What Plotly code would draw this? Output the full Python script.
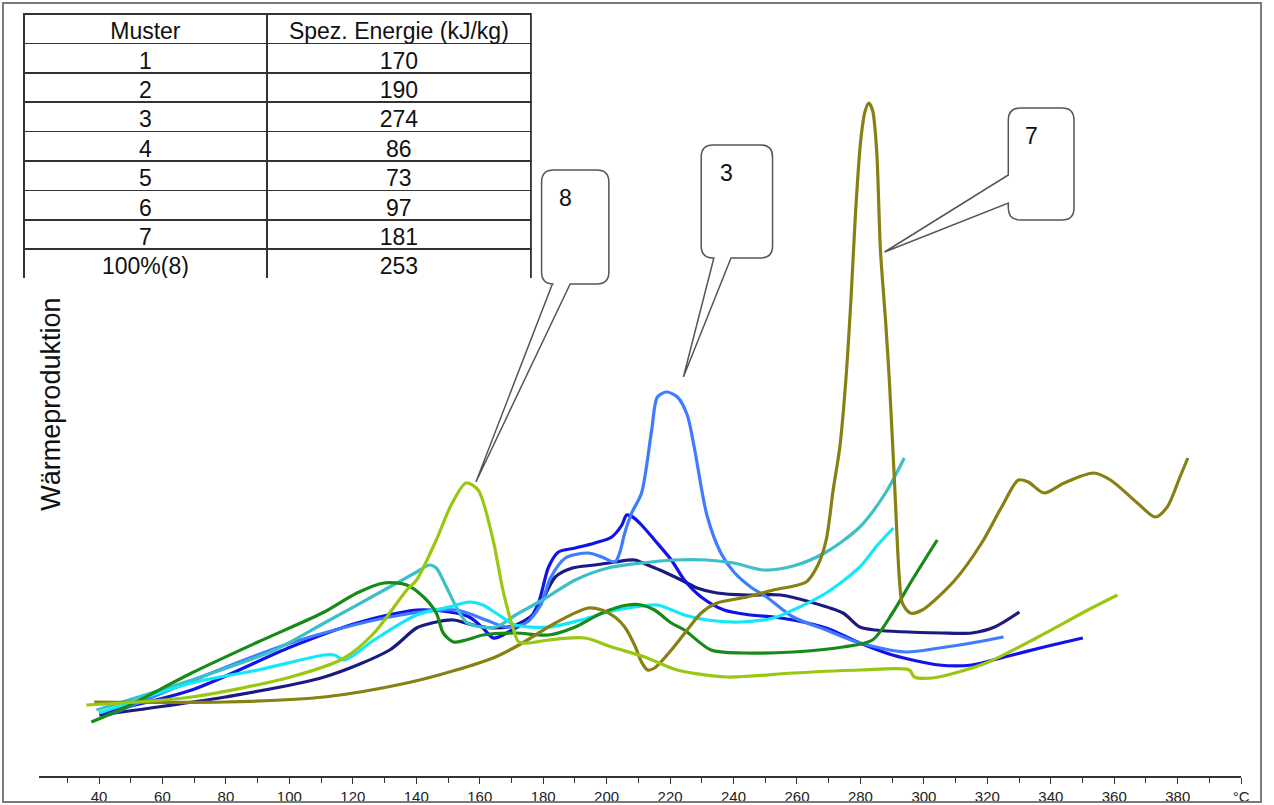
import plotly.graph_objects as go

# ---------------- data (x in °C, y relative heat production) ----------------
muster = ["1", "2", "3", "4", "5", "6", "7", "100%(8)"]
energie = ["170", "190", "274", "86", "73", "97", "181", "253"]

x1 = [40.1, 79.8, 111.0, 131.6, 140.1, 146.3, 151.7, 157.9, 164.2, 171.3, 176.7, 179.8, 183.8, 189.2, 196.3,
      202.6, 208.8, 212.9, 218.2, 223.5, 228.5, 234.8, 244.2, 254.8, 264.2, 274.5, 279.8, 284.8, 305.7, 315.1,
      322.3, 330.1]
y1 = [6.1, 7.9, 9.9, 12.6, 14.8, 15.4, 15.6, 15.1, 14.8, 15.1, 16.1, 17.6, 19.9, 20.8, 21.1,
      21.4, 21.6, 21.1, 20.4, 19.6, 18.8, 18.3, 18.1, 18.1, 17.4, 16.3, 14.9, 14.6, 14.3, 14.3,
      14.9, 16.4]

x2 = [40.1, 69.2, 100.4, 121.3, 140.1, 150.4, 156.7, 161.0, 164.2, 166.0, 171.3, 175.4, 178.5, 181.7, 184.8,
      190.1, 196.3, 201.6, 204.8, 206.3, 208.2, 211.0, 215.1, 220.4, 224.5, 229.8, 237.0, 245.4, 252.6, 258.8,
      269.2, 279.8, 290.1, 304.8, 315.1, 325.4, 337.9, 350.1]
y2 = [6.3, 8.6, 12.9, 15.3, 16.6, 16.4, 15.9, 14.8, 13.8, 13.9, 14.8, 15.6, 17.3, 20.9, 22.4,
      22.8, 23.3, 23.9, 25.1, 26.1, 25.9, 25.1, 23.6, 21.6, 19.6, 17.9, 16.6, 16.1, 15.9, 15.6,
      14.8, 13.3, 12.1, 11.1, 11.1, 11.9, 12.9, 13.8]

x3 = [43.2, 100.4, 131.6, 152.6, 162.0, 168.2, 174.5, 179.2, 182.3, 187.0, 194.2, 198.5, 202.6, 204.1, 205.7,
      207.9, 211.0, 214.2, 216.0, 218.9, 222.3, 225.4, 227.6, 231.6, 236.0, 240.1, 245.4, 250.4, 258.8, 269.2,
      279.8, 294.2, 304.8, 315.1, 325.1]
y3 = [6.1, 13.3, 15.9, 16.6, 15.6, 14.9, 15.3, 17.1, 19.8, 21.8, 22.3, 21.9, 21.4, 22.3, 24.3,
      26.3, 28.3, 34.6, 37.9, 38.4, 37.9, 36.1, 32.9, 26.1, 22.3, 20.4, 18.9, 17.9, 15.9, 14.6,
      13.3, 12.4, 12.8, 13.3, 13.9]

x4 = [39.2, 69.2, 95.4, 111.0, 131.6, 140.1, 144.2, 146.3, 149.5, 152.6, 155.7, 158.8, 165.1, 171.3, 179.8,
      190.1, 200.4, 211.0, 221.3, 231.6, 240.1, 249.5, 258.8, 269.2, 279.8, 287.9, 293.8]
y4 = [6.6, 9.6, 12.6, 15.3, 18.9, 20.4, 21.1, 20.8, 18.9, 16.9, 15.4, 15.0, 14.9, 16.1, 17.6,
      19.6, 20.8, 21.3, 21.6, 21.6, 21.3, 20.6, 21.0, 22.4, 24.9, 28.3, 31.8]

x5 = [40.1, 69.2, 90.1, 111.0, 114.2, 117.3, 126.7, 140.1, 150.4, 156.7, 161.0, 166.0, 171.3, 181.7, 193.2,
      200.4, 208.8, 216.0, 224.5, 231.6, 242.3, 252.6, 258.8, 269.2, 279.8, 285.4, 290.4]
y5 = [6.3, 9.3, 10.6, 12.1, 12.1, 11.6, 13.6, 16.1, 16.9, 17.4, 17.1, 16.1, 15.1, 14.9, 15.7,
      16.4, 16.9, 17.1, 16.1, 15.6, 15.4, 15.8, 16.6, 18.3, 20.9, 23.1, 24.8]

x6 = [37.6, 48.5, 69.2, 90.1, 111.0, 121.3, 129.8, 137.0, 142.3, 146.3, 148.5, 151.7, 155.7, 161.0, 171.3,
      181.7, 190.1, 198.5, 206.6, 211.0, 215.1, 220.4, 224.5, 232.9, 243.2, 258.8, 274.5, 283.8, 290.1, 296.3,
      304.2]
y6 = [5.4, 6.9, 10.3, 13.4, 16.4, 18.3, 19.3, 19.1, 17.9, 16.3, 14.3, 13.4, 13.6, 14.1, 14.3,
      14.1, 14.9, 16.3, 17.1, 17.1, 16.6, 15.3, 14.6, 12.6, 12.3, 12.4, 12.9, 13.6, 16.3, 19.6,
      23.6]

x7 = [38.5, 79.8, 111.0, 137.0, 152.6, 164.2, 173.5, 183.8, 194.2, 198.5, 202.6, 205.7, 208.8, 211.0, 212.9,
      215.1, 220.4, 225.4, 229.8, 234.8, 244.2, 252.6, 262.9, 266.6, 269.2, 271.4, 273.5, 275.4, 277.0, 278.5,
      280.1, 281.4, 282.6, 283.8, 285.1, 286.3, 287.9, 289.1, 290.7, 292.3, 293.2, 295.7, 299.5, 309.8, 318.2,
      324.5, 329.8, 332.9, 337.9, 344.2, 353.5, 358.8, 367.3, 372.9, 376.7, 380.7, 383.2]
y7 = [7.4, 7.4, 7.9, 9.3, 10.6, 11.8, 13.3, 15.3, 16.8, 16.6, 15.9, 14.9, 13.1, 11.4, 10.6,
      10.8, 12.6, 14.6, 16.3, 17.3, 17.9, 18.6, 19.4, 21.1, 23.6, 28.6, 32.9, 39.6, 47.6, 56.6,
      63.6, 66.4, 67.3, 66.6, 62.6, 52.6, 45.6, 39.6, 29.6, 19.6, 17.3, 16.3, 16.6, 19.6, 23.3,
      26.9, 29.6, 29.4, 28.3, 29.3, 30.3, 29.6, 27.3, 25.9, 26.9, 29.9, 31.8]

x8 = [36.0, 69.2, 100.4, 117.3, 126.7, 137.0, 140.1, 146.3, 151.0, 155.7, 159.5, 164.2, 167.3, 170.4, 172.3,
      175.4, 181.7, 193.2, 201.6, 212.0, 222.3, 237.9, 258.8, 279.8, 295.4, 297.0, 302.6, 309.8, 320.4, 336.0,
      351.7, 361.0]
y8 = [7.1, 7.9, 9.9, 11.8, 14.3, 18.6, 19.6, 23.6, 27.1, 29.3, 28.6, 23.6, 18.6, 14.9, 13.4,
      13.3, 13.6, 13.8, 12.9, 11.9, 10.6, 9.9, 10.3, 10.6, 10.6, 9.9, 9.8, 10.3, 11.4, 13.9,
      16.6, 18.1]

series = [
    ("Muster 1", x1, y1, "#1a1a80"),
    ("Muster 2", x2, y2, "#1212ea"),
    ("Muster 3", x3, y3, "#3f7cff"),
    ("Muster 4", x4, y4, "#3cbfc6"),
    ("Muster 5", x5, y5, "#12e8f8"),
    ("Muster 6", x6, y6, "#178a18"),
    ("Muster 7", x7, y7, "#878012"),
    ("Muster 8", x8, y8, "#9ac812"),
]

major_ticks = list(range(40, 400, 20)) + [400]
major_text = [str(v) for v in range(40, 400, 20)] + ["°C"]
minor_ticks = list(range(30, 400, 10))

# callouts: label, box (x0, x1, ybottom, ytop), wedge base, tip, side
callouts = [
    ("8", (179.5, 200.7, 49.2, 60.6), (182.9, 188.5), (158.8, 29.4), "bottom"),
    ("3", (229.8, 252.3, 51.8, 63.1), (233.8, 239.2), (224.2, 39.9), "bottom"),
    ("7", (326.6, 347.3, 55.6, 66.8), (60.1, 57.3), (287.6, 52.4), "left"),
]

W, H = 1274, 805
FONT = "Liberation Sans, Arial, sans-serif"

fig = go.Figure()
for name, xs, ys, col in series:
    fig.add_trace(go.Scatter(x=xs, y=ys, mode="lines", name=name,
                             line=dict(color=col, width=3.2, shape="spline", smoothing=0.8),
                             showlegend=False))

fig.add_trace(go.Table(
    domain=dict(x=[24 / W, 535 / W], y=[1 - 279 / H, 1 - 14 / H]),
    columnwidth=[245, 266],
    header=dict(values=["Muster", "Spez. Energie (kJ/kg)"], height=29.4,
                fill_color="white", line=dict(color="#333333", width=1.6),
                font=dict(family=FONT, size=23, color="#111"), align="center"),
    cells=dict(values=[muster, energie], height=29.4,
               fill_color="white", line=dict(color="#333333", width=1.6),
               font=dict(family=FONT, size=23, color="#111"), align="center"),
))


def callout_path(box, base, tip, side):
    x0, x1, yb, yt = box
    rx, ry = 3.8, 1.2
    p = [f"M {x0 + rx},{yt}", f"L {x1 - rx},{yt}", f"Q {x1},{yt} {x1},{yt - ry}",
         f"L {x1},{yb + ry}", f"Q {x1},{yb} {x1 - rx},{yb}"]
    if side == "bottom":
        p += [f"L {base[1]},{yb}", f"L {tip[0]},{tip[1]}", f"L {base[0]},{yb}"]
    p += [f"L {x0 + rx},{yb}", f"Q {x0},{yb} {x0},{yb + ry}"]
    if side == "left":
        p += [f"L {x0},{base[1]}", f"L {tip[0]},{tip[1]}", f"L {x0},{base[0]}"]
    p += [f"L {x0},{yt - ry}", f"Q {x0},{yt} {x0 + rx},{yt}", "Z"]
    return " ".join(p)


shapes = []
annotations = []
for lab, box, base, tip, side in callouts:
    shapes.append(dict(type="path", xref="x", yref="y", path=callout_path(box, base, tip, side),
                       line=dict(color="#555555", width=1.5), fillcolor="white", layer="above"))
    annotations.append(dict(x=box[0] + (box[1] - box[0]) * 0.36, y=box[3] - 2.8, xref="x", yref="y",
                            text=lab, showarrow=False, xanchor="center", yanchor="middle",
                            font=dict(family=FONT, size=23, color="#111")))

# outer frame
shapes.append(dict(type="rect", xref="paper", yref="paper", x0=3 / W, x1=1270 / W, y0=1 - 802 / H, y1=1 - 3 / H,
                   line=dict(color="#7a7a7a", width=2), fillcolor="rgba(0,0,0,0)", layer="above"))

annotations.append(dict(x=51 / W, y=1 - 404 / H, xref="paper", yref="paper", text="Wärmeproduktion",
                        textangle=-90, showarrow=False, xanchor="center", yanchor="middle",
                        font=dict(family=FONT, size=27, color="#111")))

fig.update_layout(
    width=W, height=H,
    margin=dict(l=0, r=0, t=0, b=0),
    paper_bgcolor="white", plot_bgcolor="white",
    xaxis=dict(domain=[39 / W, 1250 / W], range=[21, 400], showgrid=False, zeroline=False,
               showline=True, linecolor="#333", linewidth=1.5,
               tickmode="array", tickvals=major_ticks, ticktext=major_text,
               ticks="outside", ticklen=6, tickwidth=1.3, tickcolor="#333",
               minor=dict(tickmode="array", tickvals=minor_ticks, ticks="outside", ticklen=5,
                          tickwidth=1.3, tickcolor="#333", showgrid=False),
               tickfont=dict(family="Liberation Sans Narrow, Arial Narrow, Liberation Sans", size=15, color="#222"),
               fixedrange=True),
    yaxis=dict(domain=[29 / H, 1], range=[0, 77.6], visible=False, fixedrange=True),
    shapes=shapes, annotations=annotations,
)

fig.write_html("out.html")
